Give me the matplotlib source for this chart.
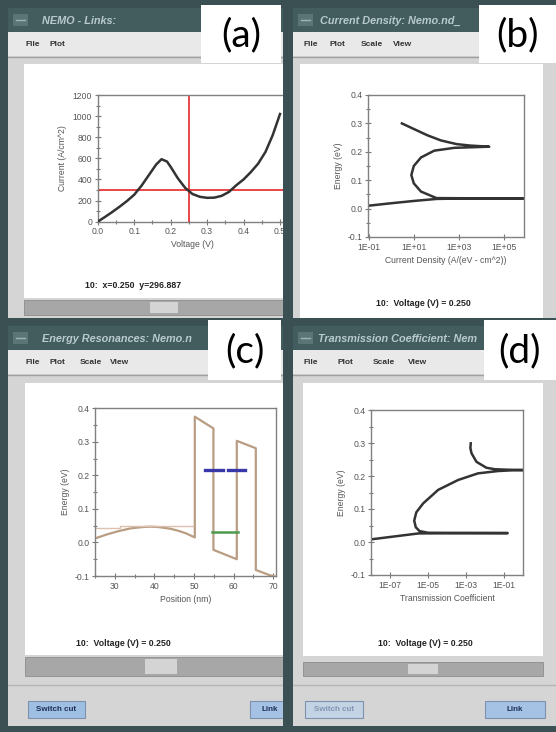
import numpy as np
import matplotlib
matplotlib.use('Agg')
import matplotlib.pyplot as plt
from matplotlib.patches import Rectangle
from matplotlib.ticker import FixedLocator, FixedFormatter, MultipleLocator, NullLocator

plt.rcParams['axes.unicode_minus'] = False
plt.rcParams['font.family'] = ['Liberation Sans', 'DejaVu Sans']

# ---------------- data ----------------
# (a) current-voltage curve
a_voltage = [0.00, 0.02, 0.04, 0.06, 0.08, 0.10, 0.12, 0.14, 0.16, 0.175, 0.19, 0.20,
             0.22, 0.24, 0.26, 0.28, 0.30, 0.32, 0.34, 0.36, 0.38, 0.40, 0.42, 0.44,
             0.46, 0.48, 0.50]
a_current = [0, 45, 92, 142, 195, 255, 340, 440, 540, 592, 570, 520,
             410, 320, 262, 236, 226, 228, 245, 282, 345, 400, 470, 550,
             660, 820, 1020]
a_cursor_v = 0.25
a_cursor_i = 296.887
a_xticks = [0.0, 0.1, 0.2, 0.3, 0.4, 0.5]
a_xticklabels = ['0.0', '0.1', '0.2', '0.3', '0.4', '0.5']
a_yticks = [0, 200, 400, 600, 800, 1000, 1200]
a_yticklabels = ['0', '200', '400', '600', '800', '1000', '1200']

energy_ticks = [-0.1, 0.0, 0.1, 0.2, 0.3, 0.4]
energy_ticklabels = ['-0.1', '0.0', '0.1', '0.2', '0.3', '0.4']

# (b) current density vs energy (log10 of current density)
b_log_density = [-1.05, 0.0, 1.0, 2.0, 3.0, 4.5, 6.5, 4.1, 3.0, 2.0, 1.31, 0.99,
                 0.88, 0.99, 1.31, 1.9, 2.8, 4.35, 3.5, 2.9, 2.2, 1.6, 1.0, 0.46]
b_energy = [0.010, 0.019, 0.027, 0.034, 0.0355, 0.036, 0.036, 0.0362, 0.0365, 0.037,
            0.060, 0.089, 0.118, 0.150, 0.180, 0.204, 0.214, 0.218, 0.222, 0.227,
            0.240, 0.258, 0.280, 0.300]
b_xticks = [1e-1, 1e1, 1e3, 1e5]
b_xticklabels = ['1E-01', '1E+01', '1E+03', '1E+05']

# (c) conduction band profile and resonances
c_pos_band = [25, 28, 31, 34, 37, 39, 41, 44, 46, 48, 50.2, 50.2, 54.9, 54.9,
              60.8, 60.8, 65.6, 65.6, 69.0, 72]
c_energy_band = [0.012, 0.024, 0.034, 0.042, 0.046, 0.047, 0.046, 0.041, 0.035, 0.027,
                 0.015, 0.375, 0.340, -0.022, -0.050, 0.303, 0.281, -0.082, -0.097, -0.107]
c_pos_ref = [25, 31.3, 31.3, 49.8]
c_energy_ref = [0.043, 0.043, 0.050, 0.050]
c_res_upper_pos = [[52.7, 57.3], [58.6, 62.9]]
c_res_upper_energy = 0.217
c_res_lower_pos = [54.6, 61.0]
c_res_lower_energy = 0.030
c_xticks = [30, 40, 50, 60, 70]
c_xticklabels = ['30', '40', '50', '60', '70']

# (d) transmission coefficient vs energy (log10 of T)
d_log_trans = [-8.0, -7.0, -6.0, -5.5, -4.0, -2.5, -0.82, -3.1, -5.0, -5.45, -5.65,
               -5.73, -5.62, -5.26, -4.47, -3.42, -2.38, -1.33, -0.5, 0.05, -0.8,
               -1.5, -1.94, -2.46, -2.72, -2.78, -2.76]
d_energy = [0.008, 0.0152, 0.0224, 0.026, 0.0265, 0.0268, 0.027, 0.0275, 0.028,
            0.033, 0.045, 0.065, 0.090, 0.117, 0.158, 0.188, 0.208, 0.215, 0.2175,
            0.218, 0.219, 0.2205, 0.225, 0.243, 0.269, 0.285, 0.299]
d_xticks = [1e-7, 1e-5, 1e-3, 1e-1]
d_xticklabels = ['1E-07', '1E-05', '1E-03', '1E-01']

# ---------------- figure ----------------
W, H = 556, 732
fig = plt.figure(figsize=(W / 100, H / 100), dpi=100)
fig.patch.set_facecolor('#3a5052')

bg = fig.add_axes([0, 0, 1, 1], zorder=-5)
bg.set_xlim(0, W); bg.set_ylim(H, 0); bg.axis('off')

FRAME = '#3a5052'
TITLE = '#435d5f'
BODY = '#d5d5d5'
MENU = '#e9e9e9'


def rect(ax, x0, y0, x1, y1, fc, ec='none', lw=0, z=1):
    ax.add_patch(Rectangle((x0, y0), x1 - x0, y1 - y0, facecolor=fc,
                           edgecolor=ec, linewidth=lw, zorder=z))


def window(x0, x1, ytop, ybot, title, title_x, menu, white, status, status_xy,
           scroll=None, thumb=None, buttons=None):
    # title bar
    rect(bg, x0, ytop, x1, ytop + 24, TITLE)
    rect(bg, x0 + 5, ytop + 6, x0 + 20, ytop + 18, '#5b7576')
    bg.plot([x0 + 8, x0 + 17], [ytop + 12, ytop + 12], color='#9fb3b5', lw=1, zorder=2)
    bg.text(title_x, ytop + 12.5, title, color='#b8cacd', fontsize=7.8, style='italic',
            fontweight='bold', va='center', ha='left', zorder=3)
    # body
    rect(bg, x0, ytop + 24, x1, ybot, BODY)
    rect(bg, x0, ytop + 24, x1, ytop + 48, MENU)
    bg.plot([x0, x1], [ytop + 49, ytop + 49], color='#a0a0a0', lw=1, zorder=2)
    for mx, mt in menu:
        bg.text(mx, ytop + 36.5, mt, fontsize=6, fontweight='bold', color='#333333',
                va='center', ha='left', zorder=3)
    rect(bg, *white, 'white')
    bg.text(status_xy[0], status_xy[1], status, fontsize=6.3, fontweight='bold',
            color='#222222', ha='center', va='center', zorder=3)
    if scroll is not None:
        rect(bg, *scroll, '#a7a7a7', ec='#8c8c8c', lw=0.6)
        rect(bg, thumb[0], scroll[1] + 2, thumb[1], scroll[3] - 2, '#d4d4d4')
    if buttons:
        bg.plot([x0, x1], [ybot - 41, ybot - 41], color='#b5b5b5', lw=1, zorder=2)
        for bx0, bx1, txt, fc, tc in buttons:
            rect(bg, bx0, ybot - 25, bx1, ybot - 8, fc, ec='#7d93ad', lw=0.8)
            bg.text((bx0 + bx1) / 2, ybot - 16.5, txt, fontsize=5.8, fontweight='bold',
                    color=tc, ha='center', va='center', zorder=3)


window(8, 283, 8, 318, 'NEMO - Links:', 42, [(25, 'File'), (50, 'Plot')],
       (24, 64, 283, 298), '10:  x=0.250  y=296.887', (133, 285),
       scroll=(24, 300, 283, 315), thumb=(150, 178))
window(293, 556, 8, 320, 'Current Density: Nemo.nd_', 320,
       [(303, 'File'), (330, 'Plot'), (361, 'Scale'), (393, 'View')],
       (300, 64, 543, 320), '10:  Voltage (V) = 0.250', (423, 303))
window(8, 283, 326, 726, 'Energy Resonances: Nemo.n', 42,
       [(25, 'File'), (50, 'Plot'), (80, 'Scale'), (110, 'View')],
       (25, 383, 283, 655), '10:  Voltage (V) = 0.250', (123, 643),
       scroll=(25, 657, 283, 676), thumb=(145, 177),
       buttons=[(28, 85, 'Switch cut', '#9fbfe2', '#1f2f5a'),
                (250, 290, 'Link', '#a5c2e4', '#1f2f5a')])
window(293, 556, 326, 726, 'Transmission Coefficient: Nem', 318,
       [(303, 'File'), (338, 'Plot'), (373, 'Scale'), (408, 'View')],
       (303, 383, 543, 656), '10:  Voltage (V) = 0.250', (425, 643),
       scroll=(303, 662, 543, 676), thumb=(408, 438),
       buttons=[(305, 363, 'Switch cut', '#c4d3e3', '#8096b2'),
                (485, 545, 'Link', '#a5c2e4', '#1f2f5a')])


def pax(x0, y0, x1, y1):
    return fig.add_axes([x0 / W, 1 - y1 / H, (x1 - x0) / W, (y1 - y0) / H], zorder=1)


def style(ax):
    for s in ax.spines.values():
        s.set_color('#808080')
        s.set_linewidth(1.0)
    ax.tick_params(which='both', direction='inout', colors='#7a7a7a',
                   labelcolor='#555555', labelsize=6.2, width=0.8, pad=2)
    ax.tick_params(which='major', length=4)
    ax.tick_params(which='minor', length=2.5)
    ax.xaxis.label.set_color('#555555')
    ax.yaxis.label.set_color('#555555')


def energy_axis(ax):
    ax.set_ylim(-0.1, 0.4)
    ax.yaxis.set_major_locator(FixedLocator(energy_ticks))
    ax.yaxis.set_major_formatter(FixedFormatter(energy_ticklabels))
    ax.yaxis.set_minor_locator(MultipleLocator(0.05))
    ax.set_ylabel('Energy (eV)', fontsize=6.2, labelpad=3)


CURVE = '#333333'

# (a)
axa = pax(97.7, 95, 287.3, 221.7)
axa.plot(a_voltage, a_current, color=CURVE, lw=1.8, zorder=3)
axa.axvline(a_cursor_v, color='#e8262a', lw=1.2, zorder=2)
axa.axhline(a_cursor_i, color='#e8262a', lw=1.2, zorder=2)
axa.set_xlim(0, 0.52)
axa.set_ylim(0, 1200)
axa.xaxis.set_major_locator(FixedLocator(a_xticks))
axa.xaxis.set_major_formatter(FixedFormatter(a_xticklabels))
axa.xaxis.set_minor_locator(MultipleLocator(0.05))
axa.yaxis.set_major_locator(FixedLocator(a_yticks))
axa.yaxis.set_major_formatter(FixedFormatter(a_yticklabels))
axa.yaxis.set_minor_locator(MultipleLocator(100))
axa.set_xlabel('Voltage (V)', fontsize=6.2, labelpad=3)
axa.set_ylabel('Current (A/cm^2)', fontsize=6.2, labelpad=4)
style(axa)

# (b)
axb = pax(368, 95, 524, 237)
axb.plot(np.power(10.0, b_log_density), b_energy, color=CURVE, lw=1.8)
axb.set_xscale('log')
axb.set_xlim(10 ** -1.05, 10 ** 5.9)
axb.xaxis.set_major_locator(FixedLocator(b_xticks))
axb.xaxis.set_major_formatter(FixedFormatter(b_xticklabels))
axb.xaxis.set_minor_locator(NullLocator())
energy_axis(axb)
axb.set_xlabel('Current Density (A/(eV - cm^2))', fontsize=6.2, labelpad=3)
style(axb)

# (c)
axc = pax(95, 408.3, 276, 576)
axc.plot(c_pos_band, c_energy_band, color='#b99d82', lw=1.6, zorder=2)
axc.plot(c_pos_ref, c_energy_ref, color='#dcc0b0', lw=1.0, zorder=2)
for seg in c_res_upper_pos:
    axc.plot(seg, [c_res_upper_energy] * 2, color='#3838a8', lw=2.4, zorder=3)
axc.plot(c_res_lower_pos, [c_res_lower_energy] * 2, color='#4d9a4d', lw=1.8, zorder=3)
axc.set_xlim(25, 70.7)
axc.xaxis.set_major_locator(FixedLocator(c_xticks))
axc.xaxis.set_major_formatter(FixedFormatter(c_xticklabels))
axc.xaxis.set_minor_locator(MultipleLocator(5))
energy_axis(axc)
axc.set_xlabel('Position (nm)', fontsize=6.2, labelpad=3)
style(axc)

# (d)
axd = pax(371, 410, 523.3, 575)
axd.plot(np.power(10.0, d_log_trans), d_energy, color=CURVE, lw=1.8)
axd.set_xscale('log')
axd.set_xlim(1e-8, 1.0)
axd.xaxis.set_major_locator(FixedLocator(d_xticks))
axd.xaxis.set_major_formatter(FixedFormatter(d_xticklabels))
axd.xaxis.set_minor_locator(NullLocator())
energy_axis(axd)
axd.set_xlabel('Transmission Coefficient', fontsize=6.2, labelpad=3)
style(axd)

# ---------------- overlay: window divider and panel tags ----------------
ov = fig.add_axes([0, 0, 1, 1], zorder=10)
ov.set_xlim(0, W); ov.set_ylim(H, 0); ov.axis('off')
ov.patch.set_alpha(0)
rect(ov, 283, 0, 293, H, FRAME)
rect(ov, 0, 318, W, 326, FRAME)
rect(ov, 0, 726, W, H, FRAME)
rect(ov, 0, 0, 8, H, FRAME)
for (x0, y0, x1, y1), lab in [((201, 5, 281, 63), '(a)'), ((479, 5, 556, 63), '(b)'),
                              ((208, 320, 281, 380), '(c)'), ((484, 320, 556, 380), '(d)')]:
    rect(ov, x0, y0, x1, y1, 'white')
    ov.text((x0 + x1) / 2, (y0 + y1) / 2 + 1, lab, fontsize=28, family='Lato',
            color='black', ha='center', va='center', zorder=5)

fig.savefig('out.png', dpi=100, facecolor=fig.get_facecolor())
